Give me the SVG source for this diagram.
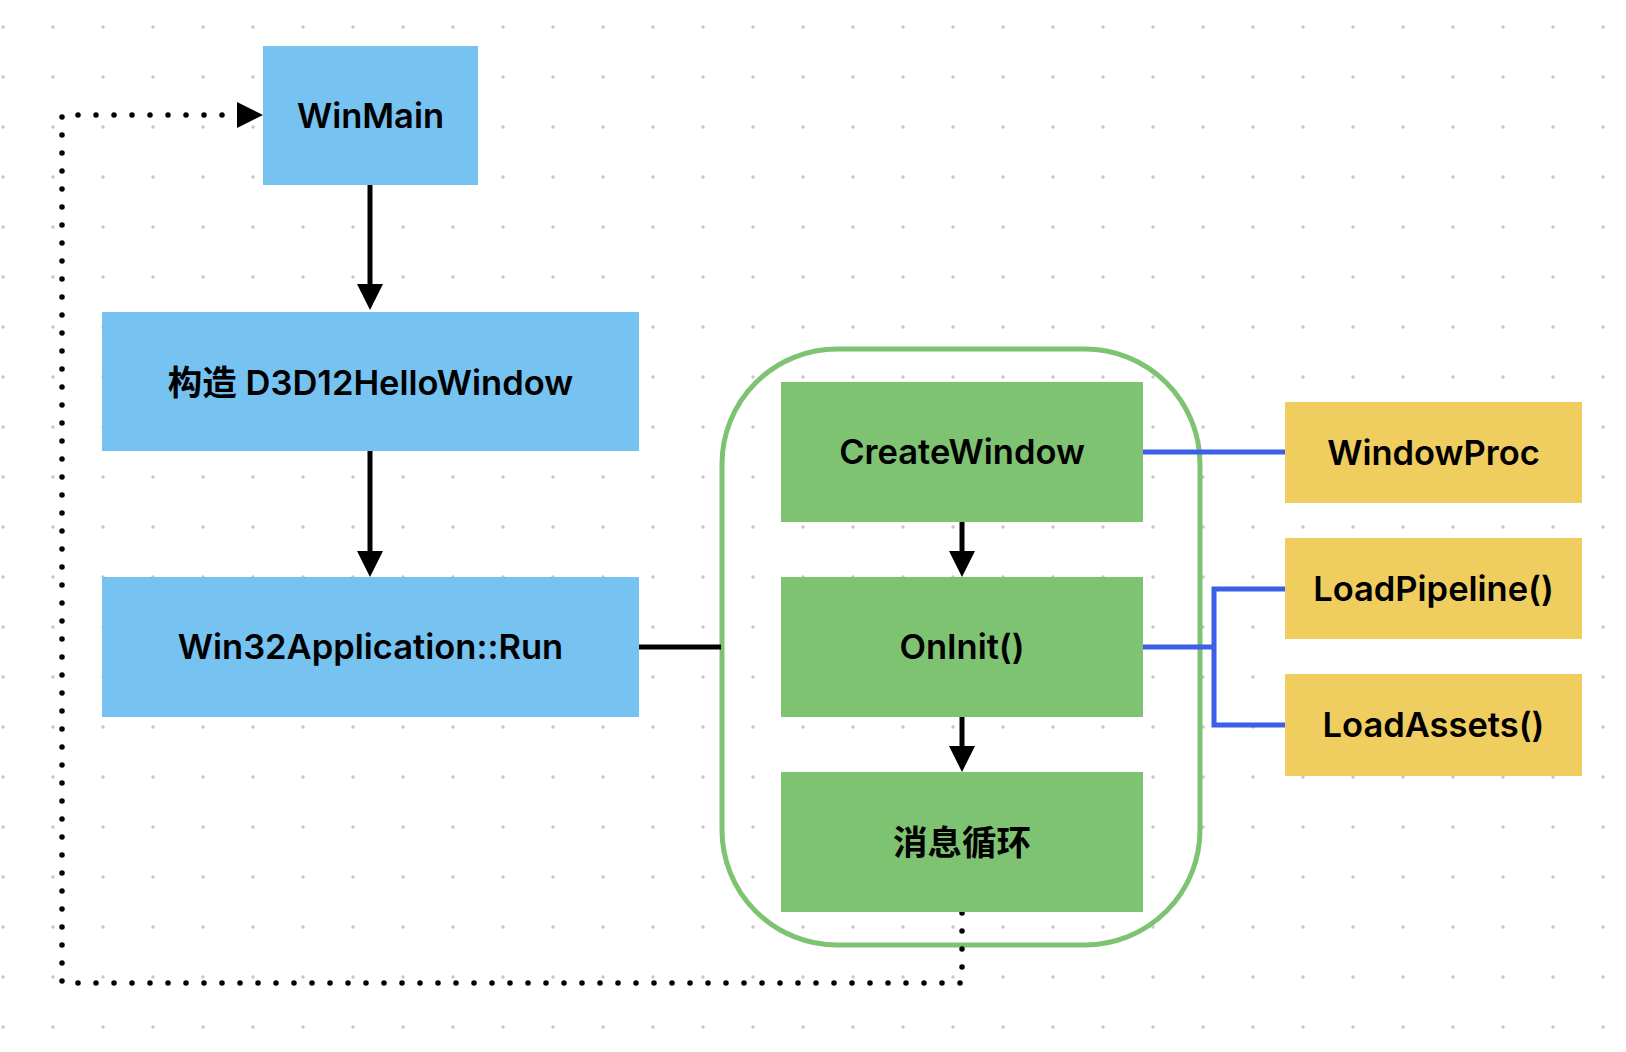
<svg xmlns="http://www.w3.org/2000/svg" width="1626" height="1052" viewBox="0 0 1626 1052">
  <defs>
    <pattern id="grid" patternUnits="userSpaceOnUse" x="-22" y="2" width="50" height="50">
      <circle cx="25" cy="25" r="1.7" fill="#c6c6c6"/>
    </pattern>
    <marker id="arrow" markerUnits="userSpaceOnUse" markerWidth="26" markerHeight="26" refX="0" refY="13" orient="auto" viewBox="0 0 26 26">
      <path d="M0,0 L26,13 L0,26 Z" fill="#000"/>
    </marker>
    <style>
      .blue { fill: #76C2F0; }
      .green { fill: #7EC372; }
      .yellow { fill: #F0CD5F; }
      .label { font-family: Inter, "Noto Sans", "Noto Sans CJK SC", sans-serif; font-size: 34.5px; font-weight: 600; fill: #000; text-anchor: middle; }
      .solid { fill: none; stroke: #000; stroke-width: 5; }
      .bl { fill: none; stroke: #3B5FE6; stroke-width: 5; stroke-linejoin: miter; }
      .dotted { fill: none; stroke: #000; stroke-width: 5.5; stroke-dasharray: 0 18; stroke-linecap: round; }
    </style>
  </defs>
  <rect x="0" y="0" width="1626" height="1052" fill="#fff"/>
  <rect x="0" y="0" width="1626" height="1052" fill="url(#grid)"/>

  <g id="container">
    <rect x="722" y="349" width="478" height="596" rx="115" ry="115" fill="none" stroke="#7EC372" stroke-width="5"/>
  </g>

  <g id="connectors">
    <path class="solid" d="M370,185 V284" marker-end="url(#arrow)"/>
    <path class="solid" d="M370,451 V551" marker-end="url(#arrow)"/>
    <path class="solid" d="M962,522 V551" marker-end="url(#arrow)"/>
    <path class="solid" d="M962,717 V746" marker-end="url(#arrow)"/>
    <path class="solid" d="M639,647 H721"/>
    <path class="bl" d="M1143,452 H1285"/>
    <path class="bl" d="M1143,647 H1214"/>
    <path class="bl" d="M1285,589 H1214 V725 H1285"/>
    <path class="dotted" d="M962,913 V983 H62 V115 H237"/>
    <path d="M237,102 L263,115 L237,128 Z" fill="#000"/>
  </g>

  <g id="node-winmain">
    <rect class="blue" x="263" y="46" width="215" height="139"/>
    <text class="label" x="370.5" y="128">WinMain</text>
  </g>
  <g id="node-construct">
    <rect class="blue" x="102" y="312" width="537" height="139"/>
    <text class="label" x="370.5" y="395">构造 D3D12HelloWindow</text>
  </g>
  <g id="node-run">
    <rect class="blue" x="102" y="577" width="537" height="140"/>
    <text class="label" x="370.5" y="659">Win32Application::Run</text>
  </g>
  <g id="node-createwindow">
    <rect class="green" x="781" y="382" width="362" height="140"/>
    <text class="label" x="962" y="464">CreateWindow</text>
  </g>
  <g id="node-oninit">
    <rect class="green" x="781" y="577" width="362" height="140"/>
    <text class="label" x="962" y="659">OnInit()</text>
  </g>
  <g id="node-msgloop">
    <rect class="green" x="781" y="772" width="362" height="140"/>
    <text class="label" x="962" y="855">消息循环</text>
  </g>
  <g id="node-windowproc">
    <rect class="yellow" x="1285" y="402" width="297" height="101"/>
    <text class="label" x="1433.5" y="465">WindowProc</text>
  </g>
  <g id="node-loadpipeline">
    <rect class="yellow" x="1285" y="538" width="297" height="101"/>
    <text class="label" x="1433.5" y="601">LoadPipeline()</text>
  </g>
  <g id="node-loadassets">
    <rect class="yellow" x="1285" y="674" width="297" height="102"/>
    <text class="label" x="1433.5" y="737">LoadAssets()</text>
  </g>
</svg>
